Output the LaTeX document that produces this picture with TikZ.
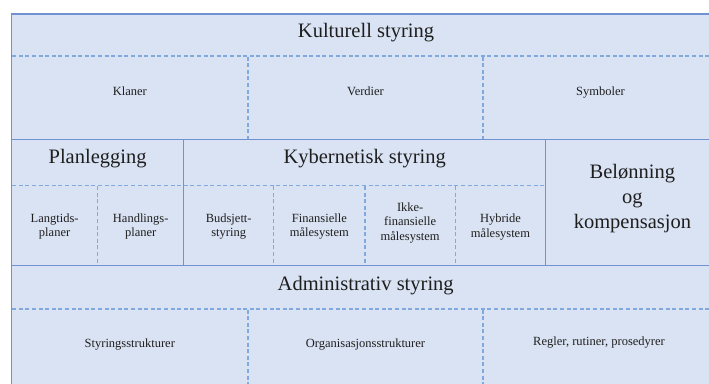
\documentclass[tikz,border=0pt]{standalone}
\usepackage{fontspec}
\setmainfont{Liberation Serif}
\definecolor{cellfill}{HTML}{DAE3F3}
\definecolor{solidline}{HTML}{7092D2}
\definecolor{dashline}{HTML}{80A9E0}
\definecolor{txt}{HTML}{1E1E1E}
\begin{document}
\begin{tikzpicture}[x=1pt,y=-1pt,
  solidrule/.style={draw=solidline,line width=1.4pt},
  dashrule/.style={draw=dashline,line width=1.1pt,dash pattern=on 4pt off 2.6pt},
  bigtext/.style={font=\fontsize{20.5}{25}\selectfont,text=txt,inner sep=0pt},
  smalltext/.style={font=\fontsize{12.5}{14.5}\selectfont,text=txt,inner sep=0pt,align=center}]
\useasboundingbox (0,0) rectangle (709,383);
\clip (0,0) rectangle (709,383);
% background
\fill[cellfill] (11.5,14) rectangle (719,392);
\draw[solidrule] (11.5,392) -- (11.5,14) -- (719,14);
% solid rules
\draw[solidrule] (11.5,139.3) -- (719,139.3);
\draw[solidrule] (11.5,265.7) -- (719,265.7);
\draw[solidrule] (183.7,139.3) -- (183.7,265.7);
\draw[solidrule] (545.7,139.3) -- (545.7,265.7);
% dashed rules
\draw[dashrule] (12.2,56) -- (719,56);
\draw[dashrule] (12.2,185.5) -- (545,185.5);
\draw[dashrule] (12.2,309) -- (719,309);
\draw[dashrule] (248,56.6) -- (248,138.6);
\draw[dashrule] (483,56.6) -- (483,138.6);
\draw[dashrule] (97.7,186) -- (97.7,265);
\draw[dashrule] (273.7,186) -- (273.7,265);
\draw[dashrule] (365,186) -- (365,265);
\draw[dashrule] (455.3,186) -- (455.3,265);
\draw[dashrule] (248,309.6) -- (248,392);
\draw[dashrule] (483,309.6) -- (483,392);
% titles
\node[bigtext,anchor=base] (kult) at (366,37.7) {Kulturell styring};
\node[bigtext,anchor=base] (plan) at (97.6,163.3) {Planlegging};
\node[bigtext,anchor=base] (kyb) at (364.7,163.3) {Kybernetisk styring};
\node[bigtext,anchor=base] (adm) at (365.7,290) {Administrativ styring};
\node[bigtext,align=center,anchor=center] (bel) at (632.4,198.8) {Belønning\\og\\kompensasjon};
% kulturell cells
\node[smalltext,anchor=base] (klaner) at (129.8,95) {Klaner};
\node[smalltext,anchor=base] (verdier) at (365.5,95) {Verdier};
\node[smalltext,anchor=base] (symb) at (600.5,95) {Symboler};
% planlegging / kybernetisk cells
\node[smalltext,anchor=center] (lang) at (54.6,226.6) {Langtids-\\planer};
\node[smalltext,anchor=center] (hand) at (140.7,226.6) {Handlings-\\planer};
\node[smalltext,anchor=center] (buds) at (228.7,226.6) {Budsjett-\\styring};
\node[smalltext,anchor=center] (fin) at (319.4,226.6) {Finansielle\\målesystem};
\node[smalltext,anchor=center] (ikke) at (410.2,222.6) {Ikke-\\finansielle\\målesystem};
\node[smalltext,anchor=center] (hyb) at (500.5,227) {Hybride\\målesystem};
% administrativ cells
\node[smalltext,anchor=base] (styr) at (129.8,347.7) {Styringsstrukturer};
\node[smalltext,anchor=base] (org) at (365.5,347.7) {Organisasjonsstrukturer};
\node[smalltext,anchor=base] (regl) at (599,345.5) {Regler, rutiner, prosedyrer};
\end{tikzpicture}
\end{document}
